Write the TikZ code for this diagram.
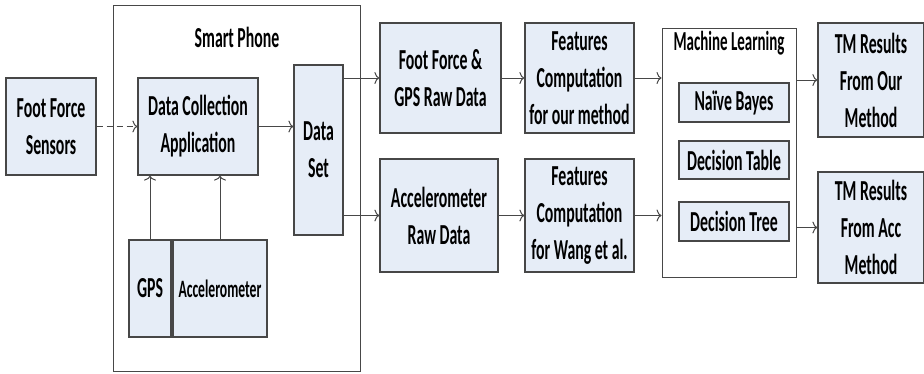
\documentclass[tikz,border=0pt]{standalone}
\usepackage{fontspec}
\setmainfont{Carlito}[FakeStretch=0.545]
\usepackage{xcolor}
\usetikzlibrary{arrows.meta,positioning}
\definecolor{boxblue}{HTML}{E6EDF7}
\definecolor{linegray}{HTML}{474747}

\begin{document}
\begin{tikzpicture}[
    x=1pt, y=-1pt,
    font=\fontsize{29}{37}\selectfont\bfseries,
    block/.style={rectangle, draw=linegray, fill=boxblue, line width=1.2pt, align=center, inner sep=0pt},
    frame/.style={rectangle, draw=linegray, line width=1pt, inner sep=0pt},
    arrow/.style={-{To[length=5pt,width=12pt]}, draw=linegray, line width=1pt},
    title/.style={align=center, inner sep=0pt}
]
\useasboundingbox (0,0) rectangle (924,373);
% Smart phone part
\node[frame, minimum width=247pt, minimum height=366pt] (phone) at (236.5,188) {};
\node[title] (phonetitle) at (237,37) {Smart Phone};
\node[block, minimum width=90pt, minimum height=97pt] (sensors) at (51,126.5) {Foot Force\\Sensors};
\node[block, minimum width=120pt, minimum height=97pt] (collect) at (198,126.5) {Data Collection\\Application};
\node[block, minimum width=49pt, minimum height=170pt] (dataset) at (318.5,150) {Data\\Set};
\node[block, minimum width=42pt, minimum height=97pt] (gps) at (150,288.5) {GPS};
\node[block, minimum width=94pt, minimum height=97pt, font=\fontsize{25}{30}\selectfont\bfseries] (accel) at (220,288.5) {Accelerometer};
% Raw data and features
\node[block, minimum width=121pt, minimum height=110pt] (ffraw) at (440.5,78) {Foot Force \&\\GPS Raw Data};
\node[block, minimum width=118pt, minimum height=113pt] (accraw) at (439,215.5) {Accelerometer\\Raw Data};
\node[block, minimum width=109pt, minimum height=110pt] (featour) at (579.5,78) {Features\\Computation\\for our method};
\node[block, minimum width=109pt, minimum height=113pt] (featwang) at (579.5,215.5) {Features\\Computation\\for Wang et al.};
% Machine learning
\node[frame, fill=white, minimum width=134pt, minimum height=249pt] (ml) at (729,152.5) {};
\node[title, font=\fontsize{27.5}{37}\selectfont\bfseries] (mltitle) at (729,43) {Machine Learning};
\node[block, minimum width=110pt, minimum height=39pt] (bayes) at (734,102.5) {Naïve Bayes};
\node[block, minimum width=110pt, minimum height=38pt] (dtable) at (734,160) {Decision Table};
\node[block, minimum width=110pt, minimum height=39pt] (dtree) at (734,221.5) {Decision Tree};
% Results
\node[block, minimum width=106pt, minimum height=114pt] (tmour) at (871,80) {TM Results\\From Our\\Method};
\node[block, minimum width=106pt, minimum height=111pt] (tmacc) at (871,227.5) {TM Results\\From Acc\\Method};
% Arrows
\draw[arrow, dash pattern=on 6pt off 4pt] (sensors) -- (collect);
\draw[arrow] (collect.east) -- (collect.east -| dataset.west);
\draw[arrow] (gps.north) -- (gps.north |- collect.south);
\draw[arrow] (accel.north) -- (accel.north |- collect.south);
\draw[arrow] (dataset.east |- ffraw.west) -- (ffraw.west);
\draw[arrow] (dataset.east |- accraw.west) -- (accraw.west);
\draw[arrow] (ffraw) -- (featour);
\draw[arrow] (accraw) -- (featwang);
\draw[arrow] (featour.east) -- (featour.east -| ml.west);
\draw[arrow] (featwang.east) -- (featwang.east -| ml.west);
\draw[arrow] (ml.east |- tmour.west) -- (tmour.west);
\draw[arrow] (ml.east |- tmacc.west) -- (tmacc.west);
\end{tikzpicture}
\end{document}
